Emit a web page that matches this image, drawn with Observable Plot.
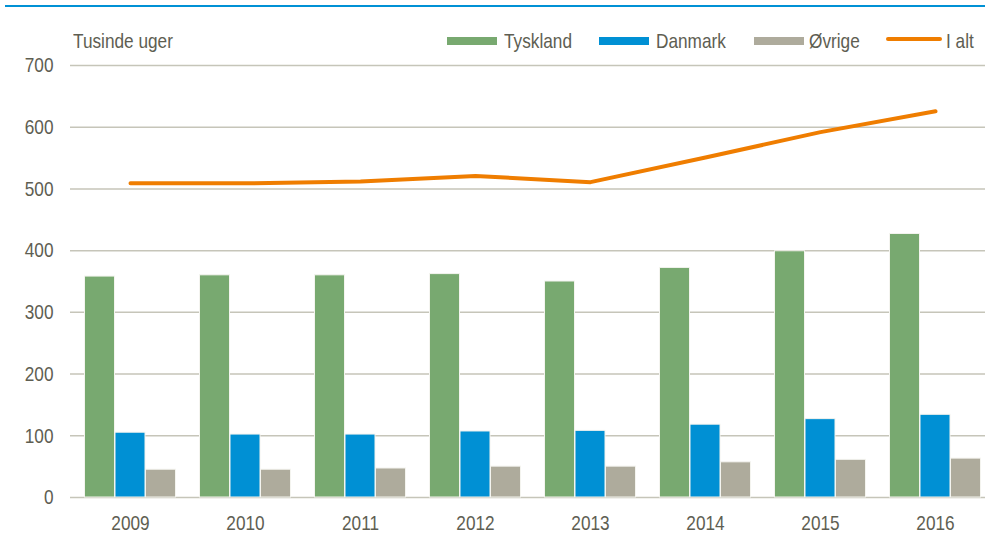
<!DOCTYPE html>
<html>
<head>
<meta charset="utf-8">
<script src="https://cdn.jsdelivr.net/npm/d3@7"></script>
<script src="https://cdn.jsdelivr.net/npm/@observablehq/plot@0.6"></script>
<style>
  html, body { margin: 0; padding: 0; background: #fff; overflow: hidden; }
  #wrap { position: relative; width: 985px; height: 535px; font-family: "Liberation Sans", Arial, sans-serif; color: #5e5e52; }
  #topline { position: absolute; left: 5px; top: 5px; width: 980px; height: 2px; background: #0091d5; }
  .lbl { position: absolute; top: 30px; font-size: 21px; line-height: 21px; white-space: nowrap; transform: scaleX(0.82); transform-origin: 0 0; color: #5e5e52; }
  .sw { position: absolute; top: 37px; width: 50px; height: 8px; }
  .ln { position: absolute; top: 37px; width: 56px; height: 4px; border-radius: 2px; }
  svg { position: absolute; left: 0; top: 0; overflow: visible; }
</style>
</head>
<body>
<div id="wrap">
  <div id="topline"></div>
  <div class="lbl" id="unit" style="left:73px">Tusinde uger</div>
</div>
<script>
const years = ["2009","2010","2011","2012","2013","2014","2015","2016"];
const tyskland = [358, 360, 360, 362, 350, 372, 399, 427];
const danmark  = [105, 102, 102, 107, 108, 118, 127, 134];
const ovrige   = [45, 45, 47, 50, 50, 57, 61, 63];
const ialt     = [509, 509, 512, 521, 511, 551, 592, 626];
const yTicks   = [0, 100, 200, 300, 400, 500, 600, 700];
const seriesNames = ["Tyskland", "Danmark", "Øvrige", "I alt"];
const colors = ["#78a970", "#0090d4", "#aeab9c", "#ef7d00"];

const rows = years.map((y, i) => ({year: y, t: tyskland[i], d: danmark[i], o: ovrige[i], total: ialt[i]}));

const barOpts = {stroke: "#f4f4ef", strokeWidth: 1};
const chart = Plot.plot({
  width: 985,
  height: 535,
  marginTop: 65,
  marginBottom: 38,
  marginLeft: 70,
  marginRight: 0,
  style: {fontFamily: '"Liberation Sans", Arial, sans-serif', fontSize: "21px", color: "#5e5e52", background: "transparent"},
  x: {type: "band", domain: years, range: [72.5, 992.5], paddingInner: 0.74, paddingOuter: 0.37},
  y: {domain: [0, 700]},
  marks: [
    Plot.ruleY(yTicks, {stroke: "#c6c5b9", strokeWidth: 1.5}),
    Plot.barY(rows, {x: "year", y: "t", fill: colors[0], dx: -30.5, ...barOpts}),
    Plot.barY(rows, {x: "year", y: "d", fill: colors[1], dx: 0, ...barOpts}),
    Plot.barY(rows, {x: "year", y: "o", fill: colors[2], dx: 30.5, ...barOpts}),
    Plot.line(rows, {x: "year", y: "total", stroke: colors[3], strokeWidth: 4, strokeLinecap: "round", strokeLinejoin: "round"}),
    Plot.axisY({ticks: yTicks, tickSize: 0, tickPadding: 17, fontSize: 21, label: null}),
    Plot.axisX({tickSize: 0, tickPadding: 18, fontSize: 21, label: null})
  ]
});
document.getElementById("wrap").appendChild(chart);
// condense axis text (narrow face look)
d3.select(chart).selectAll("g[aria-label$='tick label'] text").each(function() {
  const t = this.getAttribute("transform") || "";
  this.setAttribute("transform", t + " scale(0.82,1)");
});

const wrap = document.getElementById("wrap");
const swLeft = [447, 599, 754, 886];
const txLeft = [504, 656, 809, 946];
seriesNames.forEach((name, i) => {
  const sw = document.createElement("div");
  sw.className = i === 3 ? "ln" : "sw";
  sw.style.left = swLeft[i] + "px";
  sw.style.background = colors[i];
  wrap.appendChild(sw);
  const tx = document.createElement("div");
  tx.className = "lbl";
  tx.style.left = txLeft[i] + "px";
  tx.textContent = name;
  wrap.appendChild(tx);
});
</script>
</body>
</html>
